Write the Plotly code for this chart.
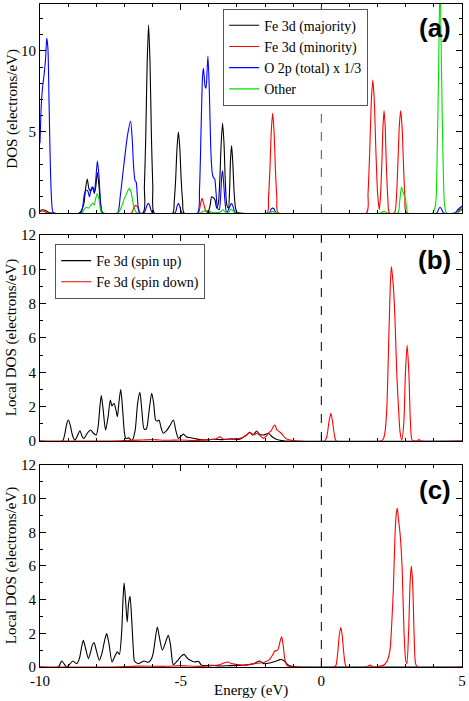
import plotly.graph_objects as go

# ---------------- Panel (a): DOS ----------------
a_maj_e = [-10, -9.9, -9.8, -9.7, -9.6,
           -8.6, -8.45, -8.38, -8.32, -8.26, -8.2, -8.13, -8.07, -8.02, -7.96, -7.9, -7.84, -7.78,
           -6.34, -6.29, -6.24, -6.19, -6.14, -6.09, -6.04, -5.99, -5.94,
           -5.28, -5.23, -5.18, -5.13, -5.08, -5.03, -4.98, -4.93, -4.88,
           -4.05, -3.95, -3.9, -3.84, -3.78, -3.72, -3.66, -3.61, -3.56, -3.51, -3.46, -3.41, -3.36,
           -3.3, -3.26, -3.23, -3.19, -3.15, -3.1, -3.05, -3.0, -2.9,
           4.8, 4.9, 5.0]
a_maj_d = [0.15, 0.2, 0.15, 0.05, 0,
           0, 0.5, 1.5, 2.1, 1.5, 1.35, 1.6, 1.2, 1.6, 2.5, 1.6, 0.4, 0,
           0, 1.6, 4.8, 9.3, 11.6, 9.3, 4.8, 1.6, 0,
           0, 0.7, 2.0, 4.0, 5.0, 4.0, 2.0, 0.7, 0,
           0, 0.5, 1.0, 0.95, 0.8, 0.3, 0.6, 2.0, 4.3, 5.54, 4.3, 1.8, 0.5,
           0.3, 1.5, 3.2, 4.16, 3.2, 1.3, 0.3, 0.05, 0,
           0, 0.1, 0.25]

a_min_e = [-10, -9.9, -9.8, -9.7,
           -6.75, -6.65, -6.58, -6.5, -6.45,
           -4.38, -4.3, -4.24, -4.17, -4.1, -4.0, -3.95,
           -1.93, -1.88, -1.83, -1.78, -1.73, -1.68, -1.63, -1.58, -1.53,
           1.6, 1.66, 1.72, 1.78, 1.83, 1.88, 1.94, 2.0, 2.06,
           2.1, 2.15, 2.19, 2.23, 2.27, 2.31, 2.36, 2.42,
           2.6, 2.67, 2.72, 2.77, 2.82, 2.87, 2.92, 2.97, 3.03,
           4.8, 4.9, 5.0]
a_min_d = [0.1, 0.12, 0.05, 0,
           0, 0.4, 0.45, 0.3, 0,
           0, 0.5, 0.9, 0.5, 0.1, 0.1, 0,
           0, 0.9, 2.6, 5.0, 6.15, 5.0, 2.6, 0.9, 0,
           0, 1.2, 3.8, 7.0, 8.2, 7.0, 3.8, 1.2, 0.2,
           1.0, 3.0, 5.3, 6.3, 5.3, 3.0, 1.0, 0,
           0, 1.0, 3.0, 5.3, 6.3, 5.3, 3.0, 1.0, 0,
           0, 0.2, 0.45]

a_o2p_e = [-10, -9.95, -9.9, -9.85, -9.8, -9.76, -9.72, -9.68, -9.64, -9.6, -9.55, -9.5,
           -8.55, -8.48, -8.42, -8.36, -8.3, -8.24, -8.18, -8.13, -8.07, -8.02, -7.96, -7.9, -7.85, -7.8, -7.75,
           -7.25, -7.15, -7.05, -6.95, -6.88, -6.78, -6.72, -6.67, -6.62, -6.58, -6.54, -6.5, -6.45,
           -6.3, -6.2, -6.15, -6.1, -6.0,
           -5.2, -5.13, -5.08, -5.03, -4.95,
           -4.4, -4.33, -4.27, -4.22, -4.19, -4.13, -4.1, -4.06, -4.03, -3.98,
           -3.93, -3.88, -3.84, -3.79, -3.74, -3.69, -3.63, -3.58, -3.54, -3.51,
           -3.47, -3.42, -3.37, -3.3, -3.23, -3.19, -3.14, -3.07, -3.0,
           -1.85, -1.78, -1.73, -1.68, -1.6,
           4.1, 4.17, 4.22, 4.27, 4.35,
           4.75, 4.85, 4.95, 5.0]
a_o2p_d = [4.3, 6.8, 7.9, 8.6, 9.6, 10.8, 10.2, 7.0, 3.5, 1.2, 0.1, 0,
           0, 0.4, 1.2, 1.4, 1.35, 1.0, 1.5, 1.6, 1.3, 2.0, 3.2, 2.2, 0.7, 0.1, 0,
           0, 1.0, 2.5, 4.0, 4.9, 5.68, 4.5, 2.8, 2.0, 1.9, 1.0, 0.2, 0,
           0, 0.45, 0.6, 0.45, 0,
           0, 0.4, 0.6, 0.4, 0,
           0, 1.5, 5.5, 8.5, 8.93, 7.8, 7.7, 8.8, 9.69, 7.5,
           4.0, 2.5, 2.2, 2.1, 1.2, 0.3, 0.2, 1.0, 2.3, 2.6,
           1.8, 0.6, 0.05, 0.2, 0.5, 0.6, 0.4, 0.05, 0,
           0, 0.25, 0.3, 0.25, 0,
           0, 0.25, 0.35, 0.25, 0,
           0, 0.2, 0.35, 0.4]

a_oth_e = [-8.5, -8.42, -8.35, -8.28, -8.2, -8.13, -8.07, -8.02, -7.96, -7.9, -7.85, -7.8,
           -7.22, -7.1, -7.0, -6.9, -6.82, -6.75, -6.68, -6.6, -6.52,
           -4.3, -4.2, -4.0, -3.9, -3.6, -3.5, -3.4, -3.3, -3.2, -3.1, -3.0,
           -1.85, -1.73, -1.6,
           2.1, 2.23, 2.35,
           2.72, 2.79, 2.85, 2.9, 2.95, 2.99, 3.03, 3.08,
           3.95, 4.06, 4.11, 4.17, 4.22, 4.27, 4.33, 4.38, 4.45,
           4.8, 4.9, 5.0]
a_oth_d = [0, 0.25, 0.35, 0.3, 0.45, 0.6, 0.5, 0.9, 1.2, 0.8, 0.2, 0,
           0, 0.4, 0.9, 1.3, 1.52, 1.2, 0.5, 0.1, 0,
           0, 0.1, 0.15, 0.05, 0.05, 0.2, 0.05, 0.05, 0.25, 0.05, 0,
           0, 0.1, 0,
           0, 0.1, 0,
           0, 0.8, 1.6, 1.3, 1.05, 0.9, 0.3, 0,
           0, 0.5, 3.0, 9.0, 14.5, 9.0, 3.0, 0.5, 0,
           0, 0.1, 0.2]

# ---------------- Panel (b): Local DOS ----------------
b_up_e = [-10, -9.2, -9.12, -9.05, -8.99, -8.92, -8.85, -8.76, -8.67, -8.58,
          -8.5, -8.44, -8.32, -8.2, -8.1, -8.0, -7.93, -7.87, -7.82, -7.76,
          -7.67, -7.58, -7.5, -7.44, -7.37, -7.3, -7.25, -7.19, -7.13, -7.07,
          -7.0, -6.95, -6.85, -6.73, -6.62, -6.53, -6.45, -6.38, -6.3, -6.22,
          -6.12, -6.03, -5.96, -5.89, -5.83, -5.77, -5.7, -5.62, -5.5, -5.38,
          -5.26, -5.17, -5.08, -4.98, -4.9, -4.8, -4.7, -4.5, -4.2, -3.8,
          -3.5, -3.2, -2.9, -2.7, -2.53, -2.45, -2.37, -2.3, -2.2, -2.05,
          -1.88, -1.75, -1.6, -1.4, -1.3, 5.0]
b_up_d = [0, 0, 0.4, 1.0, 1.22, 0.9, 0.35, 0.05, 0.3, 0.6,
          0.25, 0.15, 0.45, 0.64, 0.45, 0.35, 0.9, 2.0, 2.64, 1.9,
          0.64, 1.4, 2.39, 2.04, 2.2, 1.8, 1.42, 2.3, 3.0, 2.0,
          0.5, 0.15, 0.18, 0.02, 0.6, 2.2, 2.83, 1.8, 0.7, 0.7,
          1.8, 2.78, 2.2, 1.22, 1.15, 1.22, 0.8, 0.45, 0.6, 0.9,
          1.22, 0.6, 0.15, 0.3, 0.4, 0.25, 0.2, 0.14, 0.06, 0.1,
          0.08, 0.12, 0.1, 0.3, 0.49, 0.35, 0.45, 0.58, 0.4, 0.35,
          0.45, 0.25, 0.1, 0.02, 0, 0]

b_dn_e = [-10, -7.5, -7.0, -6.5, -6.0, -5.5, -5.0, -4.5, -4.0, -3.75,
          -3.6, -3.5, -3.3, -3.0, -2.8, -2.65, -2.56, -2.45, -2.38, -2.3,
          -2.2, -2.06, -1.95, -1.85, -1.78, -1.72, -1.65, -1.58, -1.5, -1.42,
          -1.3, -1.2, -1.0, -0.8, 0.12, 0.2, 0.27, 0.34, 0.4, 0.47,
          0.53, 2.1, 2.2, 2.27, 2.33, 2.4, 2.45, 2.49, 2.56, 2.62,
          2.68, 2.74, 2.8, 2.86, 2.93, 2.99, 3.05, 3.11, 3.17, 3.23,
          3.4, 3.47, 3.55, 5.0]
b_dn_d = [0, 0, 0.02, 0.05, 0.08, 0.04, 0.06, 0.03, 0.08, 0.12,
          0.25, 0.12, 0.1, 0.12, 0.2, 0.35, 0.5, 0.4, 0.35, 0.45,
          0.35, 0.15, 0.3, 0.5, 0.6, 0.8, 0.93, 0.65, 0.55, 0.45,
          0.2, 0.1, 0.02, 0, 0, 0.3, 1.1, 1.61, 1.1, 0.3,
          0, 0, 0.1, 0.6, 2.0, 6.1, 9.0, 10.16, 9.0, 7.0,
          4.0, 2.0, 0.5, 0.05, 1.0, 4.0, 5.59, 4.0, 1.0, 0.05,
          0, 0.08, 0, 0]

# ---------------- Panel (c): Local DOS ----------------
c_up_e = [-10, -9.35, -9.28, -9.23, -9.15, -9.05, -8.95, -8.83, -8.7, -8.6,
          -8.52, -8.46, -8.38, -8.28, -8.2, -8.14, -8.08, -8.0, -7.89, -7.8,
          -7.7, -7.63, -7.55, -7.44, -7.35, -7.25, -7.18, -7.1, -7.05, -7.01,
          -6.96, -6.9, -6.85, -6.8, -6.74, -6.68, -6.64, -6.5, -6.3, -6.15,
          -6.05, -5.98, -5.9, -5.83, -5.76, -5.65, -5.55, -5.44, -5.36, -5.26,
          -5.1, -4.98, -4.88, -4.75, -4.66, -4.5, -4.37, -4.25, -3.9, -3.6,
          -3.25, -2.8, -2.4, -2.18, -2.05, -1.8, -1.6, -1.47, -1.35, -1.16,
          -1.0, -0.8, 5.0]
c_up_d = [0, 0, 0.2, 0.36, 0.2, 0, 0.15, 0.36, 0.2, 0.5,
          1.2, 1.59, 1.1, 0.5, 0.9, 1.3, 1.45, 1.0, 0.4, 0.8,
          1.6, 1.98, 1.4, 0.3, 0.6, 0.9, 0.75, 2.0, 4.0, 5.0,
          4.0, 2.68, 3.8, 4.2, 2.8, 1.0, 0.36, 0.2, 0.36, 0.28,
          0.45, 0.8, 1.7, 2.38, 1.8, 1.0, 1.4, 1.88, 1.3, 0.14,
          0.4, 0.65, 0.75, 0.5, 0.4, 0.3, 0.34, 0.1, 0.1, 0.06,
          0.08, 0.1, 0.2, 0.36, 0.2, 0.25, 0.35, 0.44, 0.4, 0.1,
          0.02, 0, 0]

c_dn_e = [-10, -7.5, -7.0, -6.5, -5.5, -5.0, -4.5, -4.0, -3.6, -3.45,
          -3.31, -3.2, -3.0, -2.7, -2.4, -2.18, -2.0, -1.85, -1.72, -1.65,
          -1.55, -1.47, -1.41, -1.35, -1.3, -1.22, -1.1, -0.9, 0.45, 0.52,
          0.58, 0.64, 0.69, 0.74, 0.8, 0.86, 0.92, 1.6, 1.73, 1.85,
          2.1, 2.25, 2.35, 2.44, 2.5, 2.56, 2.62, 2.67, 2.7, 2.74,
          2.8, 2.87, 2.94, 3.0, 3.04, 3.1, 3.16, 3.2, 3.25, 3.3,
          3.35, 3.42, 5.0]
c_dn_d = [0, 0, 0.02, 0.05, 0.04, 0.08, 0.04, 0.06, 0.15, 0.25,
          0.3, 0.2, 0.15, 0.1, 0.2, 0.24, 0.3, 0.44, 0.75, 0.95,
          1.0, 1.5, 1.79, 1.2, 0.5, 0.1, 0.02, 0, 0, 0.1,
          0.8, 1.9, 2.34, 1.9, 0.8, 0.1, 0, 0, 0.12, 0,
          0.05, 0.15, 0.4, 1.0, 2.5, 4.6, 7.9, 9.2, 9.42, 8.8,
          7.9, 5.95, 2.0, 0.4, 0.2, 2.0, 5.2, 5.99, 4.8, 1.8,
          0.2, 0, 0]

# tick labels
x_ticks = [-10, -5, 0, 5]
x_tick_labels = ["-10", "-5", "0", "5"]
ya_ticks = [0, 5, 10]
ya_tick_labels = ["0", "5", "10"]
ybc_ticks = [0, 2, 4, 6, 8, 10, 12]
ybc_tick_labels = ["0", "2", "4", "6", "8", "10", "12"]

BLACK, RED, BLUE, GREEN = "#000000", "#ff0000", "#0000ff", "#00e000"
SERIF = "Liberation Serif, Times New Roman, serif"

fig = go.Figure()


def add(x, y, color, name, xa, ya, legend=None, show=False):
    fig.add_trace(go.Scatter(
        x=x, y=y, mode="lines", name=name, xaxis=xa, yaxis=ya,
        line=dict(color=color, width=1.1, shape="spline", smoothing=0.7),
        showlegend=show, legend=legend if legend else "legend"))


add(a_maj_e, a_maj_d, BLACK, "Fe 3d (majority)", "x", "y", "legend", True)
add(a_min_e, a_min_d, RED, "Fe 3d (minority)", "x", "y", "legend", True)
add(a_o2p_e, a_o2p_d, BLUE, "O 2p (total) x 1/3", "x", "y", "legend", True)
add(a_oth_e, a_oth_d, GREEN, "Other", "x", "y", "legend", True)

add(b_up_e, b_up_d, BLACK, "Fe 3d (spin up)", "x2", "y2", "legend2", True)
add(b_dn_e, b_dn_d, RED, "Fe 3d (spin down)", "x2", "y2", "legend2", True)

add(c_up_e, c_up_d, BLACK, "Fe 3d (spin up)", "x3", "y3")
add(c_dn_e, c_dn_d, RED, "Fe 3d (spin down)", "x3", "y3")

tickfont = dict(family=SERIF, size=15, color="black")


def xax(anchor, labels):
    return dict(
        domain=[0, 1], anchor=anchor, range=[-10, 5],
        tickmode="array", tickvals=x_ticks, ticktext=x_tick_labels,
        showticklabels=labels, tickfont=tickfont,
        ticks="inside", ticklen=6, tickwidth=1, tickcolor="black",
        minor=dict(tickmode="linear", tick0=0, dtick=1, ticks="inside",
                   ticklen=3, tickwidth=1, tickcolor="black"),
        showline=True, linecolor="black", linewidth=1, mirror="ticks",
        showgrid=False, zeroline=False, automargin=False)


def yax(anchor, domain, rng, tv, tt):
    return dict(
        domain=domain, anchor=anchor, range=rng,
        tickmode="array", tickvals=tv, ticktext=tt, tickfont=tickfont,
        ticks="inside", ticklen=6, tickwidth=1, tickcolor="black",
        minor=dict(tickmode="linear", tick0=0, dtick=1, ticks="inside",
                   ticklen=3, tickwidth=1, tickcolor="black"),
        showline=True, linecolor="black", linewidth=1, mirror="ticks",
        showgrid=False, zeroline=False, automargin=False)


legend_font = dict(family=SERIF, size=14, color="black")

fig.update_layout(
    width=469, height=701,
    margin=dict(l=40, r=7, t=4, b=34, autoexpand=False),
    paper_bgcolor="white", plot_bgcolor="white",
    xaxis=xax("y", False),
    xaxis2=xax("y2", False),
    xaxis3=xax("y3", True),
    yaxis=yax("x", [0.6848, 1.0], [0, 12.9], ya_ticks, ya_tick_labels),
    yaxis2=yax("x2", [0.3409, 0.6516], [0, 12], ybc_ticks, ybc_tick_labels),
    yaxis3=yax("x3", [0.0, 0.3047], [0, 12], ybc_ticks, ybc_tick_labels),
    legend=dict(x=0.434, y=0.993, xanchor="left", yanchor="top",
                bgcolor="white", bordercolor="#555555", borderwidth=1,
                font=legend_font, itemwidth=30, tracegroupgap=0),
    legend2=dict(x=0.036, y=0.638, xanchor="left", yanchor="top",
                 bgcolor="white", bordercolor="#555555", borderwidth=1,
                 font=legend_font, itemwidth=30, tracegroupgap=0),
    showlegend=True,
)

# dashed Fermi-level lines
for xr, yr, col in [("x", "y domain", "#555555"), ("x2", "y2 domain", "black"), ("x3", "y3 domain", "black")]:
    fig.add_shape(type="line", xref=xr, yref=yr, x0=0, x1=0, y0=0, y1=1,
                  line=dict(color=col, width=1, dash="dash"))

# panel labels
for lab, xr, yr, yy in [("(a)", "x domain", "y domain", 0.885),
                        ("(b)", "x2 domain", "y2 domain", 0.879),
                        ("(c)", "x3 domain", "y3 domain", 0.876)]:
    fig.add_annotation(text="<b>%s</b>" % lab, xref=xr, yref=yr, x=0.936, y=yy,
                       showarrow=False, xanchor="center", yanchor="middle",
                       font=dict(family="Liberation Sans, Arial, sans-serif", size=26, color="black"))

# axis titles
title_font = dict(family=SERIF, size=15, color="black")
for txt, yy in [("DOS (electrons/eV)", (0.6848 + 1.0) / 2),
                ("Local DOS (electrons/eV)", (0.3409 + 0.6516) / 2),
                ("Local DOS (electrons/eV)", 0.3047 / 2)]:
    fig.add_annotation(text=txt, xref="paper", yref="paper", x=-0.066, y=yy,
                       textangle=-90, showarrow=False, xanchor="center", yanchor="middle",
                       font=title_font)
fig.add_annotation(text="Energy (eV)", xref="paper", yref="paper", x=0.5, y=-0.0347,
                   showarrow=False, xanchor="center", yanchor="middle", font=title_font)

fig.write_html("out.html",
               config={"displayModeBar": False},
               post_script="document.body.style.margin='0';document.body.style.padding='0';"
                           "document.body.style.overflow='hidden';")
